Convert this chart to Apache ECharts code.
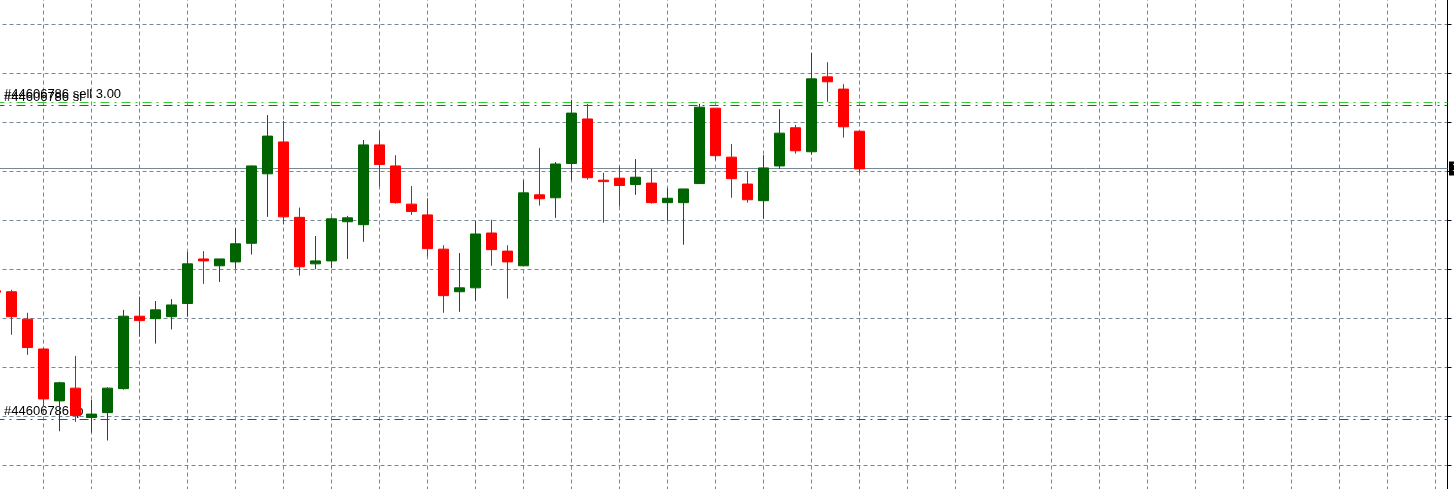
<!DOCTYPE html>
<html>
<head>
<meta charset="utf-8">
<script src="https://cdn.jsdelivr.net/npm/echarts@6/dist/echarts.min.js"></script>
<style>
html,body{margin:0;padding:0;background:#ffffff;}
#chart{width:1454px;height:489px;}
</style>
</head>
<body>
<div id="chart"></div>
<script>
// Candles, oldest first (the first one is partly cut off at the left edge)
const opens  = [1.08356,1.08354,1.08298,1.08237,1.08131,1.08157,1.08097,1.08107,1.08156,1.08304,1.08299,1.08303,1.08330,1.08421,1.08407,1.08415,1.08453,1.08595,1.08660,1.08506,1.08411,1.08417,1.08497,1.08491,1.08654,1.08611,1.08533,1.08511,1.08441,1.08354,1.08362,1.08474,1.08437,1.08407,1.08552,1.08546,1.08616,1.08707,1.08582,1.08586,1.08573,1.08576,1.08536,1.08536,1.08575,1.08729,1.08629,1.08574,1.08540,1.08611,1.08689,1.08640,1.08793,1.08768,1.08682];
const closes = [1.08353,1.08303,1.08240,1.08135,1.08168,1.08101,1.08104,1.08157,1.08304,1.08295,1.08317,1.08327,1.08411,1.08417,1.08421,1.08452,1.08611,1.08672,1.08507,1.08405,1.08417,1.08503,1.08505,1.08654,1.08614,1.08536,1.08518,1.08442,1.08346,1.08362,1.08472,1.08440,1.08415,1.08556,1.08544,1.08615,1.08719,1.08587,1.08579,1.08571,1.08588,1.08536,1.08545,1.08564,1.08731,1.08632,1.08585,1.08542,1.08607,1.08678,1.08642,1.08789,1.08783,1.08691,1.08605];
const highs  = [1.08368,1.08358,1.08311,1.08239,1.08170,1.08223,1.08133,1.08159,1.08317,1.08344,1.08335,1.08339,1.08435,1.08437,1.08421,1.08484,1.08612,1.08715,1.08703,1.08526,1.08468,1.08506,1.08509,1.08664,1.08682,1.08633,1.08570,1.08545,1.08449,1.08433,1.08499,1.08501,1.08449,1.08582,1.08648,1.08619,1.08746,1.08738,1.08597,1.08610,1.08625,1.08605,1.08566,1.08564,1.08738,1.08729,1.08656,1.08599,1.08633,1.08727,1.08695,1.08842,1.08823,1.08778,1.08682];
const lows   = [1.08337,1.08266,1.08225,1.08119,1.08069,1.08088,1.08066,1.08050,1.08154,1.08262,1.08248,1.08277,1.08303,1.08370,1.08374,1.08401,1.08430,1.08507,1.08492,1.08387,1.08400,1.08402,1.08421,1.08456,1.08569,1.08534,1.08511,1.08426,1.08311,1.08313,1.08336,1.08407,1.08340,1.08407,1.08530,1.08505,1.08582,1.08583,1.08495,1.08528,1.08552,1.08534,1.08499,1.08450,1.08575,1.08623,1.08546,1.08536,1.08503,1.08605,1.08636,1.08634,1.08742,1.08669,1.08597];

// Price scale (grid step) and visible bar slots
const priceMin = 1.0790;
const priceMax = 1.0900;
const priceStep = 0.0010;
const slotMin = 0;
const slotMax = 90.75;
const slotStep = 3;

// Horizontal price lines
const bidPrice = 1.08606;
const orderOpenPrice = 1.08741;
const orderSLPrice = 1.08735;
const orderTPPrice = 1.08093;
const orderLabels = ['#44606786 sell 3.00', '#44606786 sl', '#44606786 tp'];

const candleData = opens.map((o, i) => [i, o, closes[i], lows[i], highs[i]]);

const GRID = '#778899';
const UP = '#006400';
const DOWN = '#ff0000';
const LIME = '#32cd32';
const dashDot = [9, 5, 2, 5];

function orderLine(price, color, text, dy) {
  return {
    yAxis: price,
    lineStyle: { color: color, width: 1, type: dashDot },
    label: {
      show: true,
      position: 'insideStartTop',
      distance: [8.5, dy],
      formatter: text,
      color: '#000000',
      fontFamily: 'Liberation Sans, Arial, sans-serif',
      fontSize: 13
    }
  };
}

const chart = echarts.init(document.getElementById('chart'), null, { renderer: 'canvas' });
chart.setOption({
  animation: false,
  backgroundColor: '#ffffff',
  grid: {
    left: -4.5, right: 6.5, top: -24.44, bottom: -24.94,
    containLabel: false, outerBoundsMode: 'none'
  },
  xAxis: {
    type: 'value',
    min: slotMin, max: slotMax, interval: slotStep,
    axisLine: { show: false, onZero: false },
    axisTick: { show: false },
    axisLabel: { show: false },
    splitLine: { show: true, lineStyle: { color: GRID, width: 1, type: [4, 3] } }
  },
  yAxis: {
    type: 'value',
    position: 'right',
    min: priceMin, max: priceMax, interval: priceStep,
    axisLine: { show: true, onZero: false, lineStyle: { color: '#000000', width: 1 } },
    axisTick: { show: true, inside: false, length: 4, lineStyle: { color: '#000000', width: 1 } },
    axisLabel: { show: false },
    splitLine: { show: true, lineStyle: { color: GRID, width: 1, type: [4, 3] } }
  },
  series: [
    {
      type: 'candlestick',
      z: 2,
      barWidth: 10,
      data: candleData,
      itemStyle: {
        color: UP,
        color0: DOWN,
        borderColor: UP,
        borderColor0: DOWN,
        borderWidth: 1
      },
      markLine: {
        z: 1,
        silent: true,
        symbol: ['none', 'none'],
        animation: false,
        precision: 5,
        data: [
          {
            yAxis: bidPrice,
            lineStyle: { color: GRID, width: 1, type: 'solid' },
            label: {
              show: true,
              position: 'end',
              distance: [1.5, 0],
              formatter: bidPrice.toFixed(5),
              color: '#ffffff',
              backgroundColor: '#000000',
              padding: [1, 3, 1, 3],
              fontFamily: 'Liberation Sans, Arial, sans-serif',
              fontSize: 11,
              lineHeight: 12
            }
          },
          orderLine(orderOpenPrice, LIME, orderLabels[0], 1),
          orderLine(orderSLPrice, DOWN, orderLabels[1], 1),
          orderLine(orderTPPrice, DOWN, orderLabels[2], 2)
        ]
      }
    }
  ]
});
</script>
</body>
</html>
